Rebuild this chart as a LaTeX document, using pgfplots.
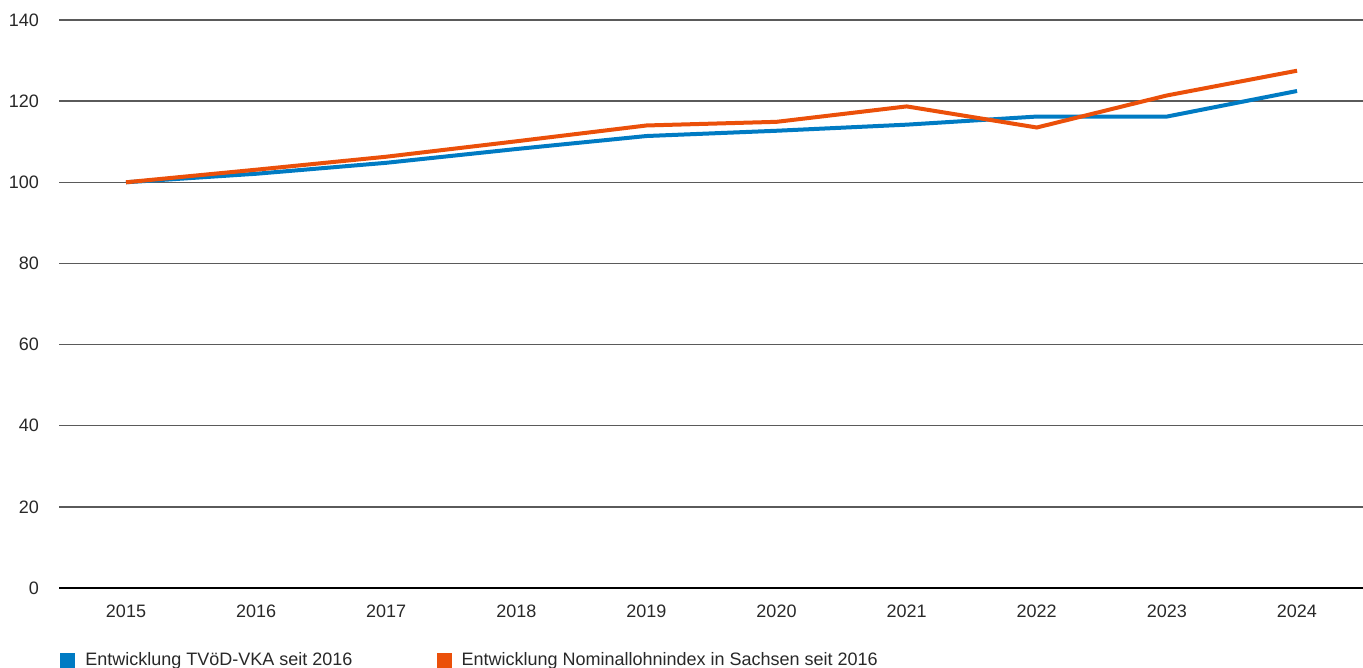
\documentclass[border=0pt]{standalone}
\usepackage{pgfplots}
\pgfplotsset{compat=1.18}
\usepackage{fontspec}
\setmainfont{Liberation Sans}
\definecolor{tvblue}{RGB}{0,123,195}
\definecolor{tvorange}{RGB}{235,80,10}
\definecolor{txt}{RGB}{40,40,40}
\definecolor{gridc}{RGB}{90,90,90}
\begin{document}
\begin{tikzpicture}
\begin{axis}[
  name=ax,
  scale only axis,
  width=652pt, height=284pt,
  xmin=2014.485, xmax=2024.507,
  ymin=0, ymax=140,
  xtick={2015,...,2024},
  ytick={0,20,...,140},
  xticklabel style={/pgf/number format/1000 sep={}, yshift=-5pt},
  yticklabel style={xshift=-6.5pt},
  /pgf/number format/assume math mode=true,
  ticklabel style={font=\fontsize{9}{11}\selectfont, text=txt},
  axis line style={draw=none},
  major tick length=0pt,
  ymajorgrids,
  grid style={gridc, line width=0.7pt},
  legend columns=2,
  legend style={draw=none, fill=none, at={(rel axis cs:0,0)}, anchor=north west,
    yshift=-28pt, xshift=-2.5pt,
    font=\fontsize{9}{11}\selectfont, text=txt,
    /tikz/every odd column/.append style={column sep=3pt},
    /tikz/every even column/.append style={column sep=40pt}},
  legend image code/.code={\fill[#1,draw=none] (0pt,-3.75pt) rectangle (7.5pt,3.75pt);},
]
\addplot[color=tvblue, line width=2pt] coordinates {
 (2015,100) (2016,102.1) (2017,104.8) (2018,108.2) (2019,111.4) (2020,112.7) (2021,114.2) (2022,116.2) (2023,116.2) (2024,122.5)};
\addlegendentry{Entwicklung TVöD-VKA seit 2016}
\addplot[color=tvorange, line width=2pt] coordinates {
 (2015,100) (2016,103.1) (2017,106.3) (2018,110.1) (2019,114.0) (2020,114.9) (2021,118.7) (2022,113.5) (2023,121.4) (2024,127.5)};
\addlegendentry{Entwicklung Nominallohnindex in Sachsen seit 2016}
\draw[black, line width=1pt] (rel axis cs:0,0) -- (rel axis cs:1,0);
\end{axis}
\pgfresetboundingbox
\useasboundingbox ([xshift=-29.5pt,yshift=-40pt]ax.south west) rectangle ([yshift=10pt]ax.north east);
\end{tikzpicture}
\end{document}
